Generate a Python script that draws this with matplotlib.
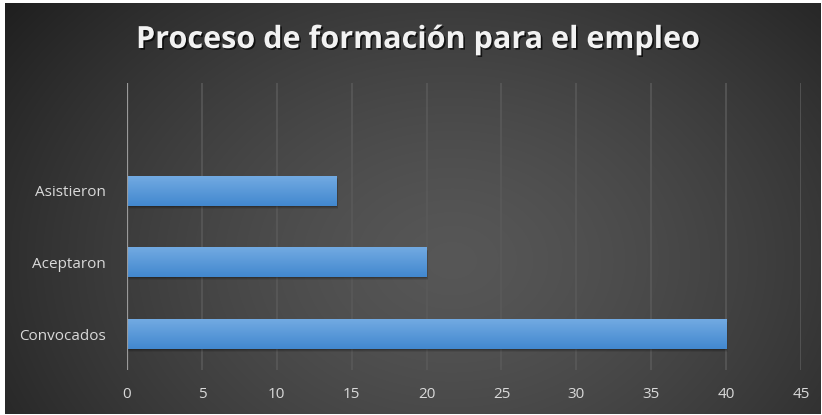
import numpy as np
import matplotlib
matplotlib.use("Agg")
import matplotlib.pyplot as plt
import matplotlib.patheffects as pe
from matplotlib.patches import Rectangle

categories = ["Convocados", "Aceptaron", "Asistieron"]
values = [40, 20, 14]
x_ticks = [0, 5, 10, 15, 20, 25, 30, 35, 40, 45]
title = "Proceso de formación para el empleo"

W, H, DPI = 822, 415, 100
fig = plt.figure(figsize=(W / DPI, H / DPI), dpi=DPI, facecolor="white")

# dark radial-gradient background (white rim left/top like the source)
bg = fig.add_axes([5 / W, 1 / H, (W - 7) / W, (H - 4) / H])
bg.set_axis_off()
yy, xx = np.mgrid[0:H, 0:W]
cx, cy = 450, 260
r = np.hypot((xx - cx) / 560, (yy - cy) / 420)
r = np.clip(r, 0, 1)
lo, hi = 0.125, 0.34
shade = hi - (hi - lo) * r ** 1.4
img = np.dstack([shade, shade, shade])
bg.imshow(img, aspect="auto", extent=[0, 1, 0, 1], interpolation="bilinear")

ax = fig.add_axes([127 / W, 1 - 370 / H, (801 - 127) / W, (370 - 83) / H])
ax.set_facecolor("none")

ypos = np.arange(len(categories))
bh = 0.415
# soft shadow under bars
for y, v in zip(ypos, values):
    for k, a in enumerate([0.08, 0.12, 0.16]):
        off = 0.12 * (3 - k) / 3
        ax.add_patch(Rectangle((0, y - bh / 2 - 0.045 * (3 - k) / 3), v + off, bh,
                               facecolor="black", alpha=a, lw=0, zorder=2))
bars = ax.barh(ypos, values, height=bh, color="#5599dc", zorder=3)
grad = np.linspace(0, 1, 64)[:, None]
top = np.array([0x72, 0xaa, 0xe2]) / 255
bot = np.array([0x42, 0x88, 0xcf]) / 255
gimg = (bot[None, None, :] * (1 - grad[..., None]) + top[None, None, :] * grad[..., None])
for b in bars:
    x0, y0, w, h = b.get_x(), b.get_y(), b.get_width(), b.get_height()
    im = ax.imshow(gimg, extent=[x0, x0 + w, y0, y0 + h], origin="lower",
                   aspect="auto", zorder=4, interpolation="bilinear")
    im.set_clip_path(b)

ax.set_xlim(0, 45)
ax.set_ylim(-0.5, 3.5)
ax.set_xticks(x_ticks)
ax.set_yticks(ypos)
ax.set_yticklabels(categories)
for t in x_ticks[1:]:
    ax.axvline(t, color="#5a5a5a", lw=1.1, zorder=1)
ax.axvline(0, color="#9a9a9a", lw=1.6, zorder=5)
for s in ax.spines.values():
    s.set_visible(False)
ax.tick_params(axis="both", length=0, colors="#d9d9d9", labelsize=11)
ax.tick_params(axis="x", pad=12)
ax.tick_params(axis="y", pad=15)
for lab in ax.get_xticklabels() + ax.get_yticklabels():
    lab.set_fontfamily("Open Sans")

fig.text(417 / W, 1 - 40 / H, title, ha="center", va="center", color="#f2f2f2",
         fontsize=22, fontweight="bold", family="Open Sans",
         path_effects=[pe.withSimplePatchShadow(offset=(1.2, -1.2), shadow_rgbFace="black", alpha=0.7)])

fig.savefig("out.png", dpi=DPI, facecolor="white")
